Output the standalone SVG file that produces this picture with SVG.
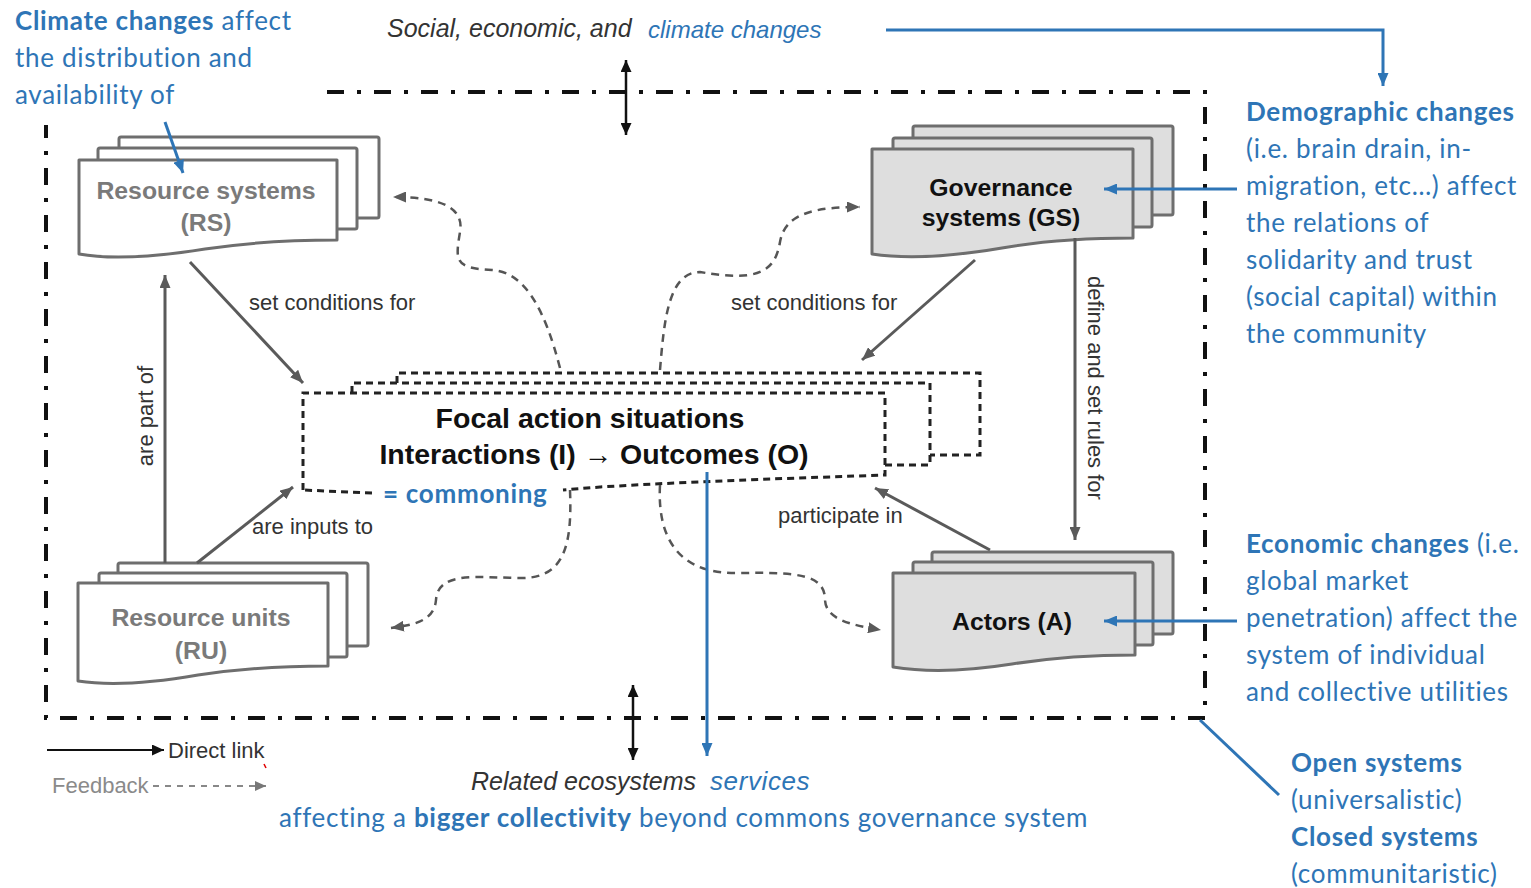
<svg xmlns="http://www.w3.org/2000/svg" width="1531" height="888" viewBox="0 0 1531 888">
<style>
  .bg{fill:#ffffff}
  .lbl{font-family:"Liberation Sans",Arial,sans-serif;font-size:22px;fill:#333333}
  .ital{font-family:"Liberation Sans",Arial,sans-serif;font-size:25px;font-style:italic;fill:#333333}
  .itb{font-family:"Liberation Sans",Arial,sans-serif;font-size:24px;font-style:italic;fill:#2E75B6}
  .blue{font-family:Lato,"Open Sans",sans-serif;font-size:26px;letter-spacing:0.7px;fill:#2E75B6}
  .b{font-weight:bold}
  .nodeW{fill:#ffffff;stroke:#6e6e6e;stroke-width:3;stroke-linejoin:round}
  .nodeG{fill:#dedede;stroke:#6e6e6e;stroke-width:3;stroke-linejoin:round}
  .ntW{font-family:"Liberation Sans",Arial,sans-serif;font-size:24.8px;font-weight:bold;fill:#7a7a7a;text-anchor:middle}
  .ntB{font-family:"Liberation Sans",Arial,sans-serif;font-size:24.8px;font-weight:bold;fill:#111111;text-anchor:middle}
  .focal{fill:none;stroke:#222222;stroke-width:3;stroke-dasharray:7 5}
  .ft{font-family:"Liberation Sans",Arial,sans-serif;font-size:28.5px;font-weight:bold;fill:#111111;text-anchor:middle}
  .solid{fill:none;stroke:#5a5a5a;stroke-width:3;marker-end:url(#ag)}
  .fb{fill:none;stroke:#555555;stroke-width:2.5;stroke-dasharray:8 6;marker-end:url(#ag)}
  .bl{fill:none;stroke:#2E75B6;stroke-width:3}
  .border{fill:none;stroke:#111111;stroke-width:4;stroke-dasharray:17 13 4 13}
</style>
<defs>
  <marker id="ag" markerUnits="userSpaceOnUse" markerWidth="13" markerHeight="11" refX="13" refY="5.5" orient="auto">
    <path d="M0,0 L13,5.5 L0,11 Z" fill="#5a5a5a"/>
  </marker>
  <marker id="ak" markerUnits="userSpaceOnUse" markerWidth="12" markerHeight="11" refX="12" refY="5.5" orient="auto-start-reverse">
    <path d="M0,0 L12,5.5 L0,11 Z" fill="#111111"/>
  </marker>
  <marker id="ab" markerUnits="userSpaceOnUse" markerWidth="13" markerHeight="11" refX="13" refY="5.5" orient="auto">
    <path d="M0,0 L13,5.5 L0,11 Z" fill="#2E75B6"/>
  </marker>
  <marker id="af" markerUnits="userSpaceOnUse" markerWidth="11" markerHeight="10" refX="11" refY="5" orient="auto">
    <path d="M0,0 L11,5 L0,10 Z" fill="#777777"/>
  </marker>
</defs>
<rect class="bg" x="0" y="0" width="1531" height="888"/>

<!-- system boundary -->
<path class="border" d="M327,92 H1205 V718 H46 V125"/>

<!-- texts outside -->
<g id="top-text">
  <text class="ital" x="387" y="37">Social, economic, and</text>
  <text class="itb" x="648" y="38">climate changes</text>
</g>
<g id="climate-text">
  <text class="blue" x="15" y="30"><tspan class="b">Climate changes</tspan> affect</text>
  <text class="blue" x="15" y="67">the distribution and</text>
  <text class="blue" x="15" y="104">availability of</text>
</g>
<g id="demographic-text">
  <text class="blue" x="1246" y="121"><tspan class="b">Demographic changes</tspan></text>
  <text class="blue" x="1246" y="158">(i.e. brain drain, in-</text>
  <text class="blue" x="1246" y="195">migration, etc…) affect</text>
  <text class="blue" x="1246" y="232">the relations of</text>
  <text class="blue" x="1246" y="269">solidarity and trust</text>
  <text class="blue" x="1246" y="306">(social capital) within</text>
  <text class="blue" x="1246" y="343">the community</text>
</g>
<g id="economic-text">
  <text class="blue" x="1246" y="553"><tspan class="b">Economic changes</tspan> (i.e.</text>
  <text class="blue" x="1246" y="590">global market</text>
  <text class="blue" x="1246" y="627">penetration) affect the</text>
  <text class="blue" x="1246" y="664">system of individual</text>
  <text class="blue" x="1246" y="701">and collective utilities</text>
</g>
<g id="open-closed-text">
  <text class="blue b" x="1291" y="772">Open systems</text>
  <text class="blue" x="1291" y="809">(universalistic)</text>
  <text class="blue b" x="1291" y="846">Closed systems</text>
  <text class="blue" x="1291" y="883">(communitaristic)</text>
</g>
<g id="bottom-text">
  <text class="ital" x="471" y="790">Related ecosystems</text>
  <text class="itb" x="710" y="790" style="font-size:26px;letter-spacing:0.6px">services</text>
  <text class="blue" x="279" y="827">affecting a <tspan class="b">bigger collectivity</tspan> beyond commons governance system</text>
</g>

<!-- nodes -->
<g id="node-rs">
  <rect class="nodeW" x="119" y="137" width="260" height="81" rx="2"/>
  <rect class="nodeW" x="98" y="148" width="259" height="81" rx="2"/>
  <path class="nodeW" d="M79,160 H337 V240 C285,240 245,243 205,249 C155,257 112,260 79,254 Z"/>
  <text class="ntW" x="206" y="199">Resource systems</text>
  <text class="ntW" x="206" y="231">(RS)</text>
</g>
<g id="node-ru">
  <rect class="nodeW" x="118" y="563" width="250" height="83" rx="2"/>
  <rect class="nodeW" x="99" y="573" width="248" height="84" rx="2"/>
  <path class="nodeW" d="M78,583 H328 V666 C275,666 238,669 198,675 C152,683 110,686 78,681 Z"/>
  <text class="ntW" x="201" y="626">Resource units</text>
  <text class="ntW" x="201" y="659">(RU)</text>
</g>
<g id="node-gs">
  <rect class="nodeG" x="913" y="126" width="260" height="89" rx="2"/>
  <rect class="nodeG" x="893" y="138" width="259" height="89" rx="2"/>
  <path class="nodeG" d="M872,149 H1133 V238 C1080,238 1042,241 1002,248 C955,256 912,260 872,254 Z"/>
  <text class="ntB" x="1001" y="196">Governance</text>
  <text class="ntB" x="1001" y="226">systems (GS)</text>
</g>
<g id="node-actors">
  <rect class="nodeG" x="932" y="552" width="241" height="82" rx="2"/>
  <rect class="nodeG" x="913" y="562" width="240" height="83" rx="2"/>
  <path class="nodeG" d="M893,573 H1135 V655 C1085,655 1050,658 1012,664 C968,671 930,673 893,667 Z"/>
  <text class="ntB" x="1012" y="630">Actors (A)</text>
</g>
<g id="node-focal">
  <path class="focal" d="M397,383 V373 H980 V455 H930"/>
  <path class="focal" d="M352,393 V383 H930 V465 H885"/>
  <path class="focal" d="M303,490 V393 H885 V475 C800,478 700,481 600,487 L563,490"/>
  <path class="focal" d="M372,493 L303,490"/>
  <text class="ft" x="590" y="428">Focal action situations</text>
  <text class="ft" x="594" y="464">Interactions (I) → Outcomes (O)</text>
  <text class="blue b" x="383" y="503">= commoning</text>
</g>

<!-- connectors -->
<g id="connectors">
  <path class="solid" d="M190,262 L303,383"/>
  <path class="solid" d="M975,260 L862,360"/>
  <path class="solid" d="M1075,238 V540"/>
  <path class="solid" d="M990,550 L875,488"/>
  <path class="solid" d="M197,563 L293,487"/>
  <path class="solid" d="M165,563 V275"/>

  <path class="fb" d="M560,368 C545,310 525,272 492,270 C455,268 455,262 460,232 C465,205 435,197 393,197"/>
  <path class="fb" d="M660,370 C664,322 668,272 700,272 C758,282 775,272 780,242 C785,212 818,207 860,207"/>
  <path class="fb" d="M570,490 C572,542 566,578 522,578 C480,578 438,570 436,600 C434,622 412,625 391,628"/>
  <path class="fb" d="M660,485 C657,540 680,575 740,573 C800,572 825,575 825,600 C826,620 852,625 881,630"/>

  <path d="M626,60 V135" fill="none" stroke="#111" stroke-width="2.5" marker-start="url(#ak)" marker-end="url(#ak)"/>
  <path d="M633,685 V760" fill="none" stroke="#111" stroke-width="2.5" marker-start="url(#ak)" marker-end="url(#ak)"/>

  <path class="bl" d="M886,30 H1383 V86" marker-end="url(#ab)"/>
  <path class="bl" d="M1237,189 H1104" marker-end="url(#ab)"/>
  <path class="bl" d="M1237,621 H1104" marker-end="url(#ab)"/>
  <path class="bl" d="M707,472 V756" marker-end="url(#ab)"/>
  <path class="bl" d="M165,122 L183,173" marker-end="url(#ab)"/>
  <path class="bl" d="M1200,720 L1279,795"/>
</g>

<!-- connector labels -->
<g id="labels">
  <text class="lbl" x="249" y="310">set conditions for</text>
  <text class="lbl" x="731" y="310">set conditions for</text>
  <text class="lbl" x="778" y="523">participate in</text>
  <text class="lbl" x="252" y="534">are inputs to</text>
  <text class="lbl" x="153" y="416" text-anchor="middle" transform="rotate(-90 153 416)">are part of</text>
  <text class="lbl" x="1088" y="388" text-anchor="middle" transform="rotate(90 1088 388)">define and set rules for</text>
</g>

<!-- legend -->
<g id="legend">
  <path d="M47,750 H164" fill="none" stroke="#111" stroke-width="2" marker-end="url(#ak)"/>
  <text class="lbl" x="168" y="758">Direct link</text>
  <text class="lbl" x="52" y="793" style="fill:#8a8a8a">Feedback</text>
  <path d="M153,786 H266" fill="none" stroke="#888" stroke-width="2" stroke-dasharray="6 6" marker-end="url(#af)"/>
  <path d="M264,764 L266,768" stroke="#e00000" stroke-width="1.5"/>
</g>
</svg>
